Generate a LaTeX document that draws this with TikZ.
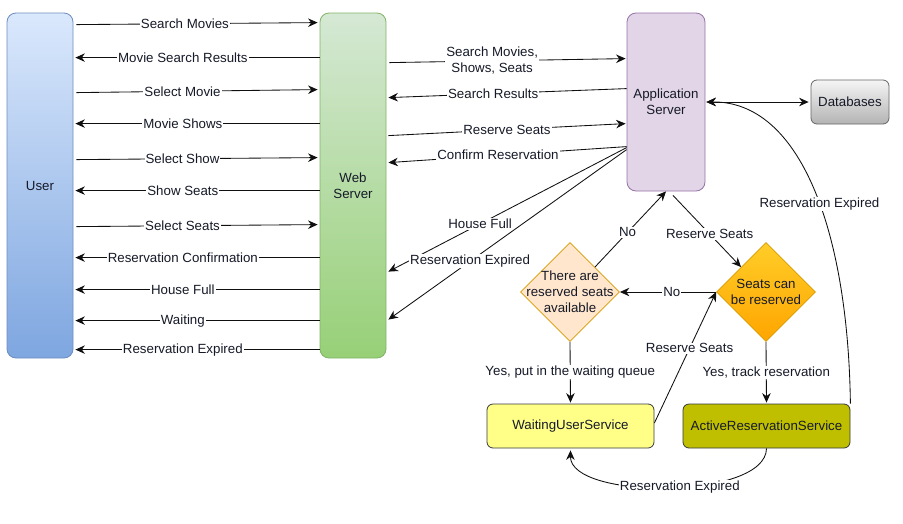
\documentclass[tikz,border=0pt]{standalone}
\usepackage{fontspec}
\setmainfont{Liberation Sans}
\usetikzlibrary{arrows.meta,shapes.geometric}
\definecolor{txt}{RGB}{22,26,40}
\definecolor{lin}{RGB}{15,15,15}
\definecolor{userT}{HTML}{DAE8FC}
\definecolor{userB}{HTML}{7EA6E0}
\definecolor{userL}{HTML}{6C8EBF}
\definecolor{webT}{HTML}{D5E8D4}
\definecolor{webB}{HTML}{97D077}
\definecolor{webL}{HTML}{82B366}
\definecolor{appF}{HTML}{E1D5E7}
\definecolor{appL}{HTML}{9673A6}
\definecolor{dbT}{HTML}{F5F5F5}
\definecolor{dbB}{HTML}{B3B3B3}
\definecolor{dbL}{HTML}{666666}
\definecolor{dOneF}{HTML}{FFE6CC}
\definecolor{dL}{HTML}{D79B00}
\definecolor{dTwoT}{HTML}{FFCD28}
\definecolor{dTwoB}{HTML}{FFA500}
\definecolor{waitF}{HTML}{FFFF88}
\definecolor{actF}{HTML}{BFBF00}
\definecolor{svcL}{HTML}{36393D}
\begin{document}
\begin{tikzpicture}[x=1pt,y=-1pt,
  font=\fontsize{13.3}{15.8}\selectfont,
  every node/.style={text=txt},
  box/.style={draw, rounded corners=9pt, line width=0.8pt, align=center, inner sep=0pt},
  dia/.style={diamond, draw=dL, line width=0.8pt, minimum width=99pt, minimum height=99pt, inner sep=0pt},
  arr/.style={draw=lin, line width=0.85pt, -{Stealth[length=9.5pt,width=8.5pt]}},
  arrb/.style={draw=lin, line width=0.85pt, {Stealth[length=9.5pt,width=8.5pt]}-{Stealth[length=9.5pt,width=8.5pt]}},
  lbl/.style={fill=white, inner sep=1pt, align=center}
]
\useasboundingbox (0,0) rectangle (903,523);

% main nodes
\node[box, top color=userT, bottom color=userB, draw=userL, minimum width=66pt, minimum height=345pt] (user) at (40,185.5) {User};
\node[box, top color=webT, bottom color=webB, draw=webL, minimum width=66pt, minimum height=345pt] (web) at (353,185.5) {Web\\Server};
\node[box, fill=appF, draw=appL, minimum width=78pt, minimum height=178pt] (app) at (666,102) {Application\\Server};
\node[box, rounded corners=6pt, top color=dbT, bottom color=dbB, draw=dbL, minimum width=78pt, minimum height=44pt] (db) at (850,102) {Databases};
\node[dia, fill=dOneF] (d1) at (570,292) {};
\node[align=center] (d1t) at (d1) {There are\\reserved seats\\available};
\node[dia, top color=dTwoT, bottom color=dTwoB] (d2) at (766,292) {};
\node[align=center] (d2t) at (d2) {Seats can\\be reserved};
\node[box, rounded corners=6pt, fill=waitF, draw=svcL, minimum width=167pt, minimum height=44pt] (wait) at (570.5,426) {WaitingUserService};
\node[box, rounded corners=6pt, fill=actF, draw=svcL, minimum width=167pt, minimum height=44pt] (act) at (766.5,426) {ActiveReservationService};

% user <-> web
\draw[arr] ([xshift=3pt,yshift=-12pt]user.north east) -- node[lbl,pos=.45]{Search Movies} ([xshift=-2pt,yshift=-10pt]web.north west);
\draw[arr] ([yshift=-45pt]web.north west) -- node[lbl,pos=.56]{Movie Search Results} ([xshift=2pt,yshift=-45pt]user.north east);
\draw[arr] ([xshift=3pt,yshift=-80pt]user.north east) -- node[lbl,pos=.44]{Select Movie} ([xshift=-2pt,yshift=-77pt]web.north west);
\draw[arr] ([yshift=-111pt]web.north west) -- node[lbl,pos=.56]{Movie Shows} ([xshift=2pt,yshift=-111pt]user.north east);
\draw[arr] ([xshift=3pt,yshift=-147pt]user.north east) -- node[lbl,pos=.44]{Select Show} ([xshift=-2pt,yshift=-145pt]web.north west);
\draw[arr] ([yshift=-178pt]web.north west) -- node[lbl,pos=.56]{Show Seats} ([xshift=2pt,yshift=-178pt]user.north east);
\draw[arr] ([xshift=3pt,yshift=-214pt]user.north east) -- node[lbl,pos=.44]{Select Seats} ([xshift=-2pt,yshift=-212pt]web.north west);
\draw[arr] ([yshift=-245pt]web.north west) -- node[lbl,pos=.56]{Reservation Confirmation} ([xshift=2pt,yshift=-245pt]user.north east);
\draw[arr] ([yshift=-277pt]web.north west) -- node[lbl,pos=.56]{House Full} ([xshift=2pt,yshift=-277pt]user.north east);
\draw[arr] ([yshift=-308pt]web.north west) -- node[lbl,pos=.56]{Waiting} ([xshift=2pt,yshift=-308pt]user.north east);
\draw[arr] ([yshift=-337pt]web.north west) -- node[lbl,pos=.56]{Reservation Expired} ([xshift=2pt,yshift=-337pt]user.north east);

% web <-> app
\draw[arr] ([xshift=3pt,yshift=-50pt]web.north east) -- node[lbl,pos=.435]{Search Movies,\\Shows, Seats} ([xshift=-1pt,yshift=-46pt]app.north west);
\draw[arr] ([yshift=-76pt]app.north west) -- node[lbl,pos=.56]{Search Results} ([xshift=2pt,yshift=-85pt]web.north east);
\draw[arr] ([xshift=2pt,yshift=-123pt]web.north east) -- node[lbl,pos=.5]{Reserve Seats} ([xshift=-1pt,yshift=-111pt]app.north west);
\draw[arr] ([yshift=-134pt]app.north west) -- node[lbl,pos=.54]{Confirm Reservation} ([xshift=2pt,yshift=-150pt]web.north east);
\draw[arr] ([yshift=-135pt]app.north west) -- node[lbl,pos=.615]{House Full} ([xshift=2pt,yshift=-259pt]web.north east);
\draw[arr] ([yshift=-137pt]app.north west) -- node[lbl,pos=.657]{Reservation Expired} ([xshift=2pt,yshift=-307pt]web.north east);

% app <-> db
\draw[arrb] ([xshift=1pt]app.east) -- ([xshift=-2pt]db.west);

% decision flow
\draw[arr] ([xshift=7pt,yshift=-4pt]app.south) -- node[lbl,pos=.54]{Reserve Seats} (d2.north west);
\draw[arr] (d1.north east) -- node[lbl,pos=.46]{No} (app.south);
\draw[arr] (d2.west) -- node[lbl,pos=.46]{No} (d1.east);
\draw[arr] (d1.south) -- node[lbl]{Yes, put in the waiting queue} ([yshift=1pt]wait.north);
\draw[arr] (d2.south) -- node[lbl]{Yes, track reservation} ([yshift=1pt]act.north);
\draw[arr] ([yshift=3pt]wait.east) -- node[lbl,pos=.57]{Reserve Seats} (d2.west);

% curves
\draw[arr] (act.north east) .. controls (848,230) and (800,101) .. node[lbl,pos=.45]{Reservation Expired} ([xshift=1pt]app.east);
\draw[arr] (act.south) .. controls (766,500) and (570,500) .. node[lbl,pos=.46]{Reservation Expired} ([yshift=-2pt]wait.south);
\end{tikzpicture}
\end{document}
